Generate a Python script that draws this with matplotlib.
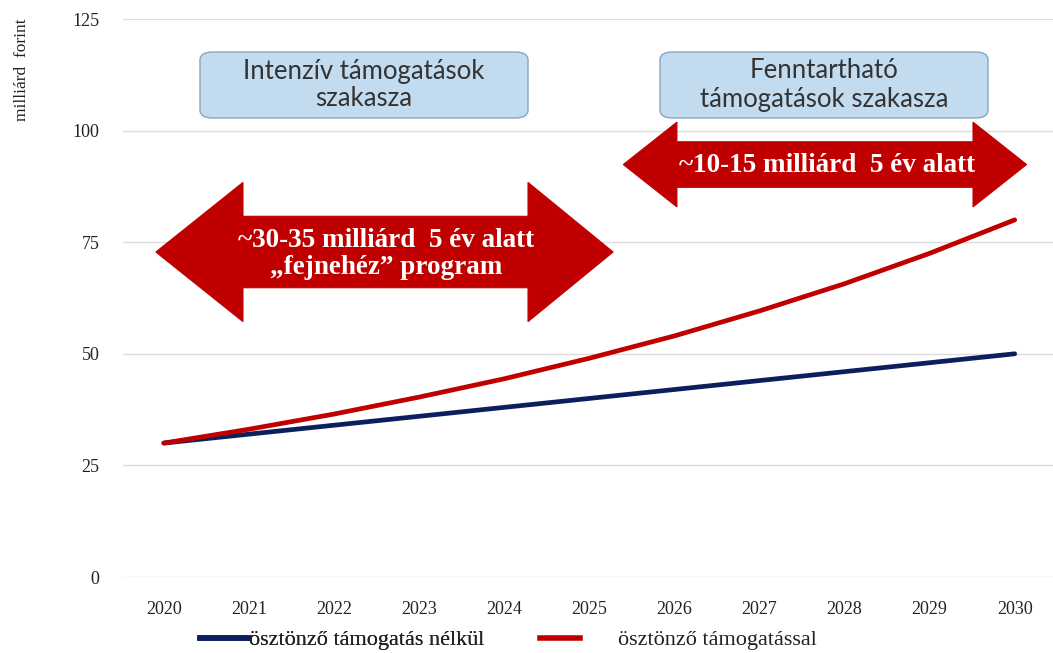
import matplotlib
matplotlib.use("Agg")
import matplotlib.pyplot as plt
from matplotlib.patches import Polygon, FancyBboxPatch
from matplotlib.lines import Line2D
import numpy as np

years = [2020, 2021, 2022, 2023, 2024, 2025, 2026, 2027, 2028, 2029, 2030]
nelkul = [30.0, 32.0, 34.0, 36.0, 38.0, 40.0, 42.0, 44.0, 46.0, 48.0, 50.0]
tamogatassal = [30.0, 33.1, 36.5, 40.3, 44.4, 49.0, 54.0, 59.6, 65.7, 72.5, 80.0]
yticks = [0, 25, 50, 75, 100, 125]
series_labels = ["ösztönző támogatás nélkül", "ösztönző támogatással"]
ylabel = "milliárd  forint"
box_texts = ["Intenzív támogatások\nszakasza", "Fenntartható\ntámogatások szakasza"]
arrow_texts = ["~30-35 milliárd  5 év alatt\n\u201efejnehéz\u201d program", "~10-15 milliárd  5 év alatt"]

BLUE = "#0b1f5c"
RED = "#c00000"
ARROW = "#c00000"

W, H = 1053, 653
fig = plt.figure(figsize=(W / 100, H / 100), dpi=100)
ax = fig.add_axes([123 / W, 1 - 577 / H, (W - 123) / W, (577 - 19) / H])

serif = "Liberation Serif"
ax.plot(years, nelkul, color=BLUE, lw=3.4, solid_capstyle="round", zorder=3)
ax.plot(years, tamogatassal, color=RED, lw=3.4, solid_capstyle="round", zorder=4)

ax.set_xlim(2019.52, 2030.45)
ax.set_ylim(0, 125)
ax.set_xticks(years)
ax.set_yticks(yticks)
ax.set_xticklabels([str(y) for y in years], fontfamily=serif, fontsize=13, color="#222222")
ax.set_yticklabels([str(v) for v in yticks], fontfamily=serif, fontsize=13, color="#222222")
ax.tick_params(axis="both", length=0)
ax.tick_params(axis="x", pad=17)
ax.tick_params(axis="y", pad=17)
for s in ax.spines.values():
    s.set_visible(False)
ax.grid(axis="y", color="#dcdcdc", lw=1.0)
ax.set_axisbelow(True)

fig.text(22 / W, 1 - 70 / H, ylabel, rotation=90, ha="center", va="center",
         fontfamily=serif, fontsize=12.5, color="#222222")


def double_arrow(ax, x0, x1, hx0, hx1, yc, shaft_half, head_half):
    pts = [(x0, yc), (hx0, yc + head_half), (hx0, yc + shaft_half), (hx1, yc + shaft_half),
           (hx1, yc + head_half), (x1, yc), (hx1, yc - head_half), (hx1, yc - shaft_half),
           (hx0, yc - shaft_half), (hx0, yc - head_half)]
    ax.add_patch(Polygon(pts, closed=True, facecolor=ARROW, edgecolor=ARROW, lw=0.8, zorder=5))


# left arrow
double_arrow(ax, 2019.906, 2025.28, 2020.93, 2024.28, 72.8, 8.0, 15.6)
ax.text((2019.906 + 2025.28) / 2 + 0.02, 72.3, arrow_texts[0], ha="center", va="center",
        fontfamily=serif, fontsize=19.5, fontweight="bold", color="white", zorder=6,
        linespacing=1.12)
# right arrow
double_arrow(ax, 2025.40, 2030.14, 2026.03, 2029.51, 92.4, 5.1, 9.5)
ax.text((2025.40 + 2030.14) / 2 + 0.03, 92.2, arrow_texts[1], ha="center", va="center",
        fontfamily=serif, fontsize=19.5, fontweight="bold", color="white", zorder=6)

# phase boxes
for (bx0, bx1), txt in zip([(200, 528), (660, 988)], box_texts):
    y0, y1 = 52, 118
    box = FancyBboxPatch((bx0 / W, 1 - y1 / H), (bx1 - bx0) / W, (y1 - y0) / H,
                         boxstyle="round,pad=0,rounding_size=0.012",
                         transform=fig.transFigure, facecolor="#c3dbef",
                         edgecolor="#8aa5c0", lw=1.0, zorder=5)
    fig.add_artist(box)
    fig.text((bx0 + bx1) / 2 / W, 1 - (y0 + y1) / 2 / H, txt, ha="center", va="center",
             fontfamily="Lato", fontsize=18.5, color="#333333", linespacing=1.15, zorder=6)

# legend
leg1 = fig.legend([Line2D([0], [0], color=BLUE, lw=4)], [series_labels[0]],
                  loc="center left", bbox_to_anchor=(200 / W, 1 - 640 / H),
                  frameon=False, borderpad=0, borderaxespad=0, handlelength=2.2,
                  handletextpad=0.0, prop={"family": serif, "size": 16})
for t in leg1.get_texts():
    t.set_color("#222222")
fig.add_artist(leg1)
leg2 = fig.legend([Line2D([0], [0], color=RED, lw=4)], [series_labels[1]],
                  loc="center left", bbox_to_anchor=(540 / W, 1 - 640 / H),
                  frameon=False, borderpad=0, borderaxespad=0, handlelength=1.8,
                  handletextpad=1.7, prop={"family": serif, "size": 16})
for t in leg2.get_texts():
    t.set_color("#222222")

fig.savefig("out.png", dpi=100, facecolor="white")
